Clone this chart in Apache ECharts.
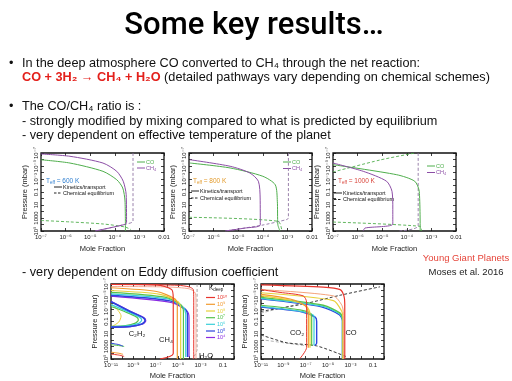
<!DOCTYPE html>
<html><head><meta charset="utf-8">
<script src="https://cdn.jsdelivr.net/npm/echarts@6/dist/echarts.min.js"></script>
<style>html,body{margin:0;padding:0;background:#fff}#c{width:512px;height:381px}</style>
</head><body><div id="c"></div>
<script>
// ---------- tick labels ----------
const topXTickExp = [-7,-6,-5,-4,-3,-2];
const topXTickText = ['10⁻⁷','10⁻⁶','10⁻⁵','10⁻⁴','10⁻³','0.01'];
const botXTickExp = [-11,-9,-7,-5,-3,-1];
const botXTickText = ['10⁻¹¹','10⁻⁹','10⁻⁷','10⁻⁵','10⁻³','0.1'];
const yTickExp = [-7,-5,-3,-1,1,3,5];
const yTickText = ['10⁻⁷','10⁻⁵','10⁻³','0.1','10','1000','10⁵'];

// ---------- top panels: [mole fraction, pressure mbar] ----------
// Teff = 600 K
const t600_CO_kin  = [[1e-7,1.1e-6],[1.5e-6,3.5e-6],[3.3e-5,6.6e-5],[1.2e-4,1.3e-3],[2.1e-4,0.024],[2.6e-4,2.4],[2.7e-4,1e5]];
const t600_CH4_kin = [[1e-7,1.4e-7],[1.5e-6,3.2e-7],[3.3e-5,3.5e-6],[1.2e-4,6.6e-5],[2.2e-4,2.2e-3],[2.9e-4,0.26],[3.0e-4,5e3],[2.5e-4,1e4],[1.6e-5,1e5]];
const t600_CO_eq   = [[1e-7,2.4e3],[1.5e-6,4e3],[3.3e-5,8.3e3],[2.6e-4,2.4e4],[4.5e-4,6e4]];
const t600_CH4_eq  = [[5.5e-4,1e-7],[5.5e-4,3e3],[3e-4,8.3e3],[1.6e-5,1e5]];
// Teff = 800 K
const t800_CO_kin  = [[1.1e-7,3.5e-6],[4.7e-6,2e-5],[1e-4,3.8e-4],[3.2e-4,7.6e-3],[3.9e-4,2.7],[4.1e-4,1.1e4],[5e-4,1e5]];
const t800_CH4_kin = [[1.1e-7,1.1e-6],[4.7e-6,1.1e-5],[3e-5,1.2e-4],[6.6e-5,2.2e-3],[7.8e-5,0.83],[7.9e-5,1.1e4],[1.9e-5,3.5e4],[2.9e-6,1e5]];
const t800_CO_eq   = [[1e-7,780],[4.2e-4,3.2e3],[6e-4,1e5]];
const t800_CH4_eq  = [[1.1e-3,1e-7],[1.1e-3,1e3],[9e-4,1.8e3],[9e-5,1.3e4],[3e-6,1e5]];
// Teff = 1000 K
const t1000_CO_kin  = [[1e-7,6.3e-6],[3.9e-5,2.2e-4],[2.1e-4,2.2e-3],[3.2e-4,0.078],[3.5e-4,1e5]];
const t1000_CH4_kin = [[1e-7,3.5e-6],[1.7e-6,6.6e-5],[1.5e-5,2.2e-3],[2.5e-5,0.078],[2.7e-5,29],[2.7e-5,8.3e3],[2e-6,3.5e4],[1.7e-6,9e4]];
const t1000_CO_eq_top = [[1e-7,8.3e-5],[8.1e-6,1.2e-6],[2.1e-4,1e-7]];
const t1000_CO_eq_bot = [[1e-7,4.2e3],[3.5e-4,1.9e4],[4e-4,1e5]];
const t1000_CH4_eq  = [[2.9e-4,1e-7],[2.9e-4,1.5e4],[5e-5,1e5]];

// ---------- bottom panels: Kdeep = 1e10 ... 1e4 ----------
const kLabels = ['10¹⁰','10⁹','10⁸','10⁷','10⁶','10⁵','10⁴'];
const kColors = ['#e8352d','#f29a2e','#e8d03a','#56c24b','#38cfd9','#2b44dc','#8a2be2'];
// CH4
const ch4_k10 = [[1e-11,1.2e-7],[1.2e-7,1.4e-7],[2.7e-6,8e-7],[3.7e-6,2.5e-5],[3.7e-6,1.3e4],[2.4e-7,1e5]];
const ch4_k9  = [[1e-11,4e-7],[1.2e-7,1.6e-6],[5.4e-6,2.5e-5],[8.5e-6,2.8e-4],[8.5e-6,1e5]];
const ch4_k8  = [[1e-11,1.1e-6],[2.4e-7,4.5e-6],[1e-5,7e-5],[1.7e-5,8e-4],[1.7e-5,1e5]];
const ch4_k7  = [[1e-11,2.2e-6],[6.8e-7,1.3e-5],[1.8e-5,2e-4],[3e-5,2.2e-3],[3e-5,1e5]];
const ch4_k6  = [[1e-11,3.7e-6],[1.3e-6,2.5e-5],[3e-5,5.6e-4],[4.8e-5,6.3e-3],[4.8e-5,5e4]];
const ch4_k5  = [[1e-11,6.3e-6],[1.9e-6,5e-5],[4.6e-5,1.1e-3],[6.9e-5,0.0126],[6.9e-5,5e4]];
const ch4_k4  = [[1e-11,8.9e-6],[2.9e-6,1e-4],[6.3e-5,2.2e-3],[9.5e-5,0.025],[9.5e-5,5e4]];
// C2H2
const c2h2_k8 = [[1e-11,1.4e-4],[4e-11,1.5e-3],[8e-11,0.013],[5e-11,0.12],[1e-11,0.8]];
const c2h2_k7 = [[1e-11,4e-4],[2e-10,3e-3],[2e-9,0.02],[2.8e-9,0.06],[1.5e-9,0.18],[2e-10,0.45],[1e-11,0.6]];
const c2h2_k6 = [[1e-11,2e-4],[3e-10,2.5e-3],[3.5e-9,0.02],[5.6e-9,0.06],[3e-9,0.2],[3e-10,0.5],[1e-11,0.7]];
const c2h2_k5 = [[1e-11,7e-5],[5e-10,2.5e-3],[7.8e-9,0.025],[1.1e-8,0.079],[5.6e-9,0.25],[5e-10,0.62],[1e-11,0.8]];
const c2h2_k4 = [[1e-11,6e-5],[6e-10,2.5e-3],[9e-9,0.025],[1.3e-8,0.075],[7e-9,0.25],[6e-10,0.65],[1e-11,0.85]];
const c2h2deep_k10 = [[1e-11,1.6e4],[6e-11,2.5e4],[1.5e-10,4e4]];
const c2h2deep_k9  = [[1e-11,8e3],[5e-11,1.2e4],[1.2e-10,1.8e4]];
const c2h2deep_k7  = [[1e-11,500],[8e-11,800],[1.5e-10,1e3]];
const c2h2deep_k5  = [[1e-11,300],[5e-11,500],[1.2e-10,900]];
// H2O
const h2o_k10 = [[1e-11,1.1e-7],[1e-5,1.6e-7],[1e-4,3e-7],[2.3e-4,8e-7],[2.5e-4,2.5e-5],[2.5e-4,1e5]];
const h2o_k9  = [[1e-11,2.5e-7],[1e-6,3e-7],[1e-4,6e-7],[3.5e-4,3e-6],[4e-4,1e-4],[4e-4,1e5]];
const h2o_eq  = [[5e-4,1e-7],[5e-4,3e3],[3e-4,3e4],[2e-4,1e5]];
// CO
const co_k10 = [[1e-11,1.4e-7],[3.7e-6,3.2e-7],[1.2e-4,8e-7],[2.6e-4,8e-6],[3.1e-4,1.4e-4],[3.1e-4,1e5]];
const co_k9  = [[1e-11,8e-7],[3e-5,8e-6],[1.7e-4,2.5e-4],[2.3e-4,4.5e-3],[2.3e-4,1e5]];
const co_k8  = [[1e-11,2.5e-6],[3e-5,4.5e-5],[1.7e-4,2.5e-3],[2.1e-4,0.025],[2.1e-4,1e5]];
const co_k7  = [[1e-11,1.4e-5],[3.7e-6,2.5e-4],[1.2e-4,4.5e-3],[2e-4,0.05],[2e-4,1e5]];
const co_k6  = [[1e-11,2e-5],[3e-6,3.5e-4],[1.1e-4,6e-3],[1.9e-4,0.06],[1.9e-4,1e5]];
const co_k5  = [[1e-11,2.5e-5],[2.5e-6,4.5e-4],[1e-4,8e-3],[1.9e-4,0.08],[1.9e-4,1e5]];
// CO2
const co2_k10 = [[1e-11,8e-7],[5e-10,2.2e-6],[6e-8,8e-6],[1.2e-7,8e-5],[1.2e-7,1.4e3],[3.1e-8,8e4]];
const co2_k9  = [[1e-11,4.5e-6],[4e-9,2.5e-5],[8.7e-8,2.8e-4],[1.7e-7,4.5e-3],[1.7e-7,1.6e3]];
const co2_k8  = [[1e-11,8e-6],[4e-9,4e-5],[1.2e-7,4e-4],[2.4e-7,6e-3],[2.4e-7,1.6e3]];
const co2_k7  = [[1e-11,2.5e-4],[3.1e-8,1.4e-3],[3.4e-7,0.01],[3.4e-7,800]];
const co2_k6  = [[1e-11,4e-4],[4e-8,2.5e-3],[5.5e-7,0.015],[5.5e-7,700]];
const co2_k5  = [[1e-11,5e-4],[5e-8,3e-3],[7e-7,0.02],[9.5e-7,0.1],[9.5e-7,300],[6e-7,700]];
// equilibrium (dashed)
const eqUpper     = [[1e-11,2.4e-3],[8.7e-8,1.4e-4],[1.2e-4,6.3e-6],[0.44,2.8e-7]];
const eqUpperGray = [[1e-11,4.4e-3],[1.2e-7,8e-5]];
const eqLower     = [[1e-11,14],[2e-9,250],[9.5e-7,800],[4.7e-4,4.5e4]];
const eqLowerGray = [[1e-11,80],[1.2e-7,800]];

// ---------- build chart ----------
const FONT = 'Liberation Sans, Arial, DejaVu Sans, sans-serif';
const GREEN = '#4fae4c', PURPLE = '#8c4ea6', PURPLE_EQ = '#8f74a3';
const L = a => a.map(d => [Math.log10(d[0]), Math.log10(d[1])]);

const gridBoxes = [
  {left:41, top:153, width:123, height:78},
  {left:189, top:153, width:123, height:78},
  {left:333, top:153, width:123, height:78},
  {left:111, top:284, width:123, height:80},
  {left:261, top:284, width:123, height:80}
];
const fmt = (exps, texts) => v => { const i = exps.indexOf(Math.round(v)); return (Math.abs(v - Math.round(v)) < 1e-6 && i >= 0) ? texts[i] : ''; };

const grid = gridBoxes.map(g => Object.assign({show:true, borderColor:'#111', borderWidth:1.3, backgroundColor:'rgba(0,0,0,0)'}, g));
const tick = {show:true, inside:true, length:3, lineStyle:{color:'#111', width:0.8}};
const noLine = {show:false, onZero:false};
const xAxis = [], yAxis = [];
gridBoxes.forEach((g, i) => {
  const top = i < 3;
  xAxis.push({
    type:'value', gridIndex:i, min: top ? -7 : -11, max: top ? -2 : 0, interval:1, position:'bottom',
    axisLine:noLine, splitLine:{show:false}, axisTick:tick,
    axisLabel:{fontSize:6, margin:3, color:'#222', fontFamily:FONT,
      formatter: top ? fmt(topXTickExp, topXTickText) : fmt(botXTickExp, botXTickText)},
    name:'Mole Fraction', nameLocation:'middle', nameGap: top ? 14 : 13,
    nameTextStyle:{fontSize:7.5, color:'#222', fontFamily:FONT}
  });
  yAxis.push({
    type:'value', gridIndex:i, min:-7, max:5, interval:1, inverse:true, position:'left',
    axisLine:noLine, splitLine:{show:false}, axisTick:tick,
    axisLabel:{fontSize:6, margin:2, rotate:90, color:'#222', fontFamily:FONT, formatter: fmt(yTickExp, yTickText)},
    name:'Pressure (mbar)', nameLocation:'middle', nameGap:12,
    nameTextStyle:{fontSize:7.5, color:'#222', fontFamily:FONT}
  });
});
// mirrored tick-only axes on top / right of every frame
gridBoxes.forEach((g, i) => {
  const top = i < 3;
  xAxis.push({type:'value', gridIndex:i, min: top ? -7 : -11, max: top ? -2 : 0, interval:1, position:'top',
    axisLine:noLine, splitLine:{show:false}, axisTick:tick, axisLabel:{show:false}});
  yAxis.push({type:'value', gridIndex:i, min:-7, max:5, interval:1, inverse:true, position:'right',
    axisLine:noLine, splitLine:{show:false}, axisTick:tick, axisLabel:{show:false}});
});

const specs = [
  // [grid, data, color, dashed, width]
  [0, t600_CO_eq, GREEN, true, 0.9],
  [0, t600_CH4_eq, PURPLE_EQ, true, 0.9],
  [0, t600_CO_kin, GREEN, false, 1],
  [0, t600_CH4_kin, PURPLE, false, 1],
  [1, t800_CO_eq, GREEN, true, 0.9],
  [1, t800_CH4_eq, PURPLE_EQ, true, 0.9],
  [1, t800_CO_kin, GREEN, false, 1],
  [1, t800_CH4_kin, PURPLE, false, 1],
  [2, t1000_CO_eq_top, GREEN, true, 0.9],
  [2, t1000_CO_eq_bot, GREEN, true, 0.9],
  [2, t1000_CH4_eq, PURPLE_EQ, true, 0.9],
  [2, t1000_CO_kin, GREEN, false, 1],
  [2, t1000_CH4_kin, PURPLE, false, 1],
  // bottom-left
  [3, h2o_eq, '#999', true, 0.9],
  [3, h2o_k9, '#f4a08a', false, 0.9],
  [3, h2o_k10, kColors[0], false, 1],
  [3, ch4_k4, kColors[6], false, 1.2],
  [3, ch4_k5, kColors[5], false, 1.4],
  [3, ch4_k6, kColors[4], false, 1.2],
  [3, ch4_k7, kColors[3], false, 1.2],
  [3, ch4_k8, kColors[2], false, 1.2],
  [3, ch4_k9, kColors[1], false, 1.2],
  [3, ch4_k10, kColors[0], false, 1.2],
  [3, c2h2_k8, kColors[2], false, 1],
  [3, c2h2_k7, kColors[3], false, 1.2],
  [3, c2h2_k6, kColors[4], false, 1.2],
  [3, c2h2_k4, kColors[6], false, 1.2],
  [3, c2h2_k5, kColors[5], false, 1.6],
  [3, c2h2deep_k10, kColors[0], false, 1],
  [3, c2h2deep_k9, kColors[1], false, 1],
  [3, c2h2deep_k7, kColors[3], false, 1],
  [3, c2h2deep_k5, kColors[5], false, 1],
  // bottom-right
  [4, eqUpperGray, '#aaa', true, 0.9],
  [4, eqLowerGray, '#aaa', true, 0.9],
  [4, eqUpper, '#222', true, 0.9],
  [4, eqLower, '#222', true, 0.9],
  [4, co_k5, kColors[5], false, 1.2],
  [4, co_k6, kColors[4], false, 1.2],
  [4, co_k7, kColors[3], false, 1.4],
  [4, co_k8, kColors[2], false, 1.2],
  [4, co_k9, '#f4a37a', false, 1],
  [4, co_k10, kColors[0], false, 1.2],
  [4, co2_k5, kColors[5], false, 1.4],
  [4, co2_k6, kColors[4], false, 1.2],
  [4, co2_k7, kColors[3], false, 1.2],
  [4, co2_k8, kColors[2], false, 1.2],
  [4, co2_k9, kColors[1], false, 1.2],
  [4, co2_k10, kColors[0], false, 1]
];
const series = specs.map(s => ({
  type:'line', xAxisIndex:s[0], yAxisIndex:s[0], data:L(s[1]), showSymbol:false, smooth:0.25,
  lineStyle:{color:s[2], width:s[4], type: s[3] ? [3,2] : 'solid'}, silent:true
}));

// ---------- text / annotation graphics ----------
const G = [];
const BODY = 12.7;
const txt = (x, y, text, o = {}) => G.push({type:'text', silent:true, style:Object.assign({
  x, y, text, fill:'#111', fontFamily:FONT, fontSize:BODY, textAlign:'left', textVerticalAlign:'middle'}, o)});
const seg = (x1, y1, x2, y2, color, dashed, w) => G.push({type:'line', silent:true,
  shape:{x1, y1, x2, y2}, style:{stroke:color, lineWidth:w || 1, lineDash: dashed ? [2.5,1.5] : null}});

txt(254, 26, 'Some key results…', {fontSize:31, fontWeight:500, fontFamily:'Roboto, Liberation Sans, sans-serif', textAlign:'center', fill:'#000'});
txt(9, 63, '•');
txt(22, 63, 'In the deep atmosphere CO converted to CH₄ through the net reaction:');
txt(22, 77.5, '{r|CO + 3H₂ → CH₄ + H₂O} (detailed pathways vary depending on chemical schemes)',
  {rich:{r:{fill:'#e3201b', fontWeight:'bold', fontSize:BODY, fontFamily:FONT}}});
txt(9, 106.5, '•');
txt(22, 106.5, 'The CO/CH₄ ratio is :');
txt(22, 121, '- strongly modified by mixing compared to what is predicted by equilibrium');
txt(22, 135, '- very dependent on effective temperature of the planet');
txt(22, 272, '- very dependent on Eddy diffusion coefficient');
txt(466, 258, 'Young Giant Planets', {fontSize:9.5, textAlign:'center', fill:'#e6453a'});
txt(466, 272, 'Moses et al. 2016', {fontSize:9.5, textAlign:'center', fill:'#222'});

// top-panel legends
const teff = [['600 K', '#2f7fd0', 46, 181], ['800 K', '#e39b2c', 193, 181], ['1000 K', '#d9443a', 338, 181]];
teff.forEach(t => txt(t[2], t[3], '{a|T}{b|eff}{a| = ' + t[0] + '}', {fill:t[1],
  rich:{a:{fontSize:6.5, fill:t[1], fontFamily:FONT}, b:{fontSize:4.5, fill:t[1], fontFamily:FONT, verticalAlign:'bottom', padding:[3,0,0,0]}}}));
const kinLeg = [[54, 187, 193], [191, 191, 198], [334, 193, 199.5]];
kinLeg.forEach(k => {
  seg(k[0], k[1], k[0] + 8, k[1], '#222', false, 1);
  txt(k[0] + 9, k[1], 'Kinetics/transport', {fontSize:5.5});
  seg(k[0], k[2], k[0] + 8, k[2], '#222', true, 1);
  txt(k[0] + 9, k[2], 'Chemical equilibrium', {fontSize:5.5});
});
const spLeg = [[137, 162, 168], [283, 162, 168.5], [427, 166, 172.5]];
spLeg.forEach(k => {
  seg(k[0], k[1], k[0] + 8, k[1], GREEN, false, 1);
  txt(k[0] + 9, k[1], 'CO', {fontSize:5.5, fill:GREEN});
  seg(k[0], k[2], k[0] + 8, k[2], PURPLE, false, 1);
  txt(k[0] + 9, k[2], 'CH₄', {fontSize:5.5, fill:PURPLE});
});

// bottom-left legend
txt(209, 288.5, '{a|K}{b|deep}', {rich:{a:{fontSize:6.5, fill:'#222', fontFamily:FONT}, b:{fontSize:4.5, fill:'#222', fontFamily:FONT, verticalAlign:'bottom', padding:[3,0,0,0]}}});
const kLegY = [297.5, 304.3, 311, 317.7, 324.3, 331, 337.5];
kLabels.forEach((lab, i) => {
  seg(206, kLegY[i], 215, kLegY[i], kColors[i], false, 1.2);
  txt(217, kLegY[i], lab, {fontSize:5.5, fill:kColors[i]});
});
// species labels
txt(137, 334, 'C₂H₂', {fontSize:7.5, textAlign:'center'});
txt(166, 340, 'CH₄', {fontSize:7.5, textAlign:'center'});
txt(206, 356, 'H₂O', {fontSize:7.5, textAlign:'center'});
txt(297, 333, 'CO₂', {fontSize:7.5, textAlign:'center'});
txt(351, 333, 'CO', {fontSize:7.5, textAlign:'center'});

const chart = echarts.init(document.getElementById('c'), null, {renderer:'canvas'});
chart.setOption({animation:false, backgroundColor:'#fff', grid, xAxis, yAxis, series, graphic:G});
</script></body></html>
